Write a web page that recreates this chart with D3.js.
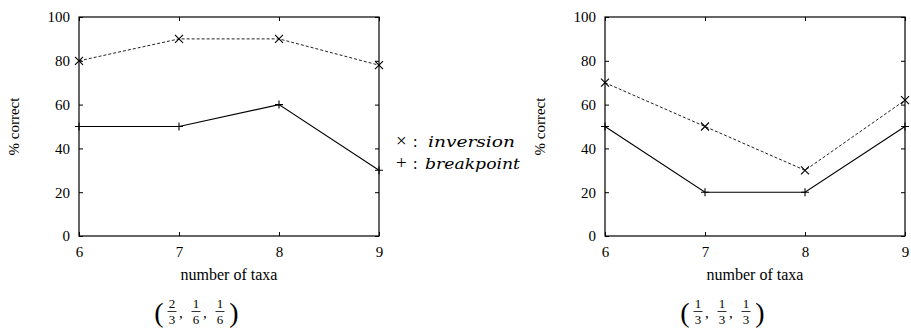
<!DOCTYPE html>
<html lang="en">
<head>
    <meta charset="UTF-8">
    <title>Percent correct vs number of taxa</title>
    <script src="https://d3js.org/d3.v7.min.js"></script>
    <style>
        body { margin: 0; background: #fff; }
        svg { display: block; }
        svg text { font-family: "Liberation Serif", "Times New Roman", "DejaVu Serif", serif !important; fill: #000; }
        svg text.mathit { font-family: "DejaVu Serif", serif !important; font-style: italic; }
    </style>
</head>
<body>
    <svg width="911" height="328"></svg>

    <script>
        // data
        const taxa = [6, 7, 8, 9];
        const yTicks = [0, 20, 40, 60, 80, 100];
        const leftInversion = [80, 90, 90, 78];
        const leftBreakpoint = [50, 50, 60, 30];
        const rightInversion = [70, 50, 30, 62];
        const rightBreakpoint = [50, 20, 20, 50];
        const leftWeights = [["2", "3"], ["1", "6"], ["1", "6"]];
        const rightWeights = [["1", "3"], ["1", "3"], ["1", "3"]];
        const legendLabels = ["inversion", "breakpoint"];

        const svg = d3.select("svg");
        const plotTop = 17, plotBottom = 236;

        const panels = [
            { x0: 79, x1: 379, inv: leftInversion, bp: leftBreakpoint, weights: leftWeights, ylab: 14 },
            { x0: 605, x1: 905, inv: rightInversion, bp: rightBreakpoint, weights: rightWeights, ylab: 540 }
        ];

        const y = d3.scaleLinear().domain([0, 100]).range([plotBottom, plotTop]);

        panels.forEach(p => {
            const x = d3.scaleLinear().domain([6, 9]).range([p.x0, p.x1]);
            const g = svg.append("g");

            // mirrored inward ticks on all four sides
            const tickLen = 4;
            g.append("g").attr("transform", `translate(0,${plotBottom})`)
                .call(d3.axisBottom(x).tickValues(taxa).tickSize(-tickLen).tickPadding(10).tickFormat(d3.format("d")))
                .call(a => a.select(".domain").remove());
            g.append("g").attr("transform", `translate(0,${plotTop})`)
                .call(d3.axisTop(x).tickValues(taxa).tickSize(-tickLen).tickFormat(""))
                .call(a => a.select(".domain").remove());
            g.append("g").attr("transform", `translate(${p.x0},0)`)
                .call(d3.axisLeft(y).tickValues(yTicks).tickSize(-tickLen).tickPadding(9))
                .call(a => a.select(".domain").remove());
            g.append("g").attr("transform", `translate(${p.x1},0)`)
                .call(d3.axisRight(y).tickValues(yTicks).tickSize(-tickLen).tickFormat(""))
                .call(a => a.select(".domain").remove());

            g.selectAll(".tick text").style("font-size", "15px");
            g.selectAll(".tick line").attr("stroke", "#000");

            g.append("rect")
                .attr("x", p.x0).attr("y", plotTop)
                .attr("width", p.x1 - p.x0).attr("height", plotBottom - plotTop)
                .attr("fill", "none").attr("stroke", "#000").attr("stroke-width", 1.2);

            const line = d3.line().x((d, i) => x(taxa[i])).y(d => y(d));

            g.append("path").datum(p.inv)
                .attr("d", line).attr("fill", "none")
                .attr("stroke", "#222").attr("stroke-width", 1)
                .attr("stroke-dasharray", "3,2");
            g.append("path").datum(p.bp)
                .attr("d", line).attr("fill", "none")
                .attr("stroke", "#000").attr("stroke-width", 1.1);

            const m = 4;
            g.selectAll(".cross").data(p.inv).join("path")
                .attr("d", (d, i) => {
                    const cx = x(taxa[i]), cy = y(d);
                    return `M${cx - m},${cy - m}L${cx + m},${cy + m}M${cx - m},${cy + m}L${cx + m},${cy - m}`;
                })
                .attr("stroke", "#000").attr("stroke-width", 1.1);
            g.selectAll(".plus").data(p.bp).join("path")
                .attr("d", (d, i) => {
                    const cx = x(taxa[i]), cy = y(d);
                    return `M${cx - m},${cy}L${cx + m},${cy}M${cx},${cy - m}L${cx},${cy + m}`;
                })
                .attr("stroke", "#000").attr("stroke-width", 1.1);

            // axis titles
            g.append("text")
                .attr("x", (p.x0 + p.x1) / 2).attr("y", 280)
                .attr("text-anchor", "middle").style("font-size", "16px")
                .text("number of taxa");
            g.append("text")
                .attr("transform", `translate(${p.ylab + 5},${(plotTop + plotBottom) / 2}) rotate(-90)`)
                .attr("text-anchor", "middle").style("font-size", "15px")
                .text("% correct");

            // weight triple as stacked fractions
            const cx = (p.x0 + p.x1) / 2 - 33;
            const f = svg.append("g");
            const fx = d3.scalePoint().domain([0, 1, 2]).range([cx - 24, cx + 24]);
            f.append("text").attr("x", cx - 37).attr("y", 322)
                .attr("text-anchor", "middle").style("font-size", "28px").text("(");
            f.append("text").attr("x", cx + 38).attr("y", 322)
                .attr("text-anchor", "middle").style("font-size", "28px").text(")");
            p.weights.forEach((w, i) => {
                const px = fx(i);
                f.append("text").attr("x", px).attr("y", 308)
                    .attr("text-anchor", "middle").style("font-size", "13px").text(w[0]);
                f.append("line").attr("x1", px - 4.5).attr("x2", px + 4.5)
                    .attr("y1", 311.5).attr("y2", 311.5).attr("stroke", "#000").attr("stroke-width", 0.8);
                f.append("text").attr("x", px).attr("y", 324)
                    .attr("text-anchor", "middle").style("font-size", "13px").text(w[1]);
                if (i < 2) {
                    f.append("text").attr("x", px + 7).attr("y", 318)
                        .style("font-size", "15px").text(",");
                }
            });
        });

        // legend between the panels
        const legend = svg.append("g");
        const symbols = ["\u00d7", "+"];
        legendLabels.forEach((lab, i) => {
            const by = 147 + i * 22;
            legend.append("text").attr("x", 396).attr("y", by)
                .style("font-size", "19px").text(symbols[i]);
            legend.append("text").attr("x", 413).attr("y", by)
                .style("font-size", "16px").text(":");
            legend.append("text").attr("class", "mathit")
                .attr("x", i === 0 ? 428 : 425).attr("y", by)
                .style("font-size", "15px")
                .attr("textLength", i === 0 ? 87 : 95)
                .attr("lengthAdjust", "spacingAndGlyphs")
                .text(lab);
        });
    </script>
</body>
</html>
